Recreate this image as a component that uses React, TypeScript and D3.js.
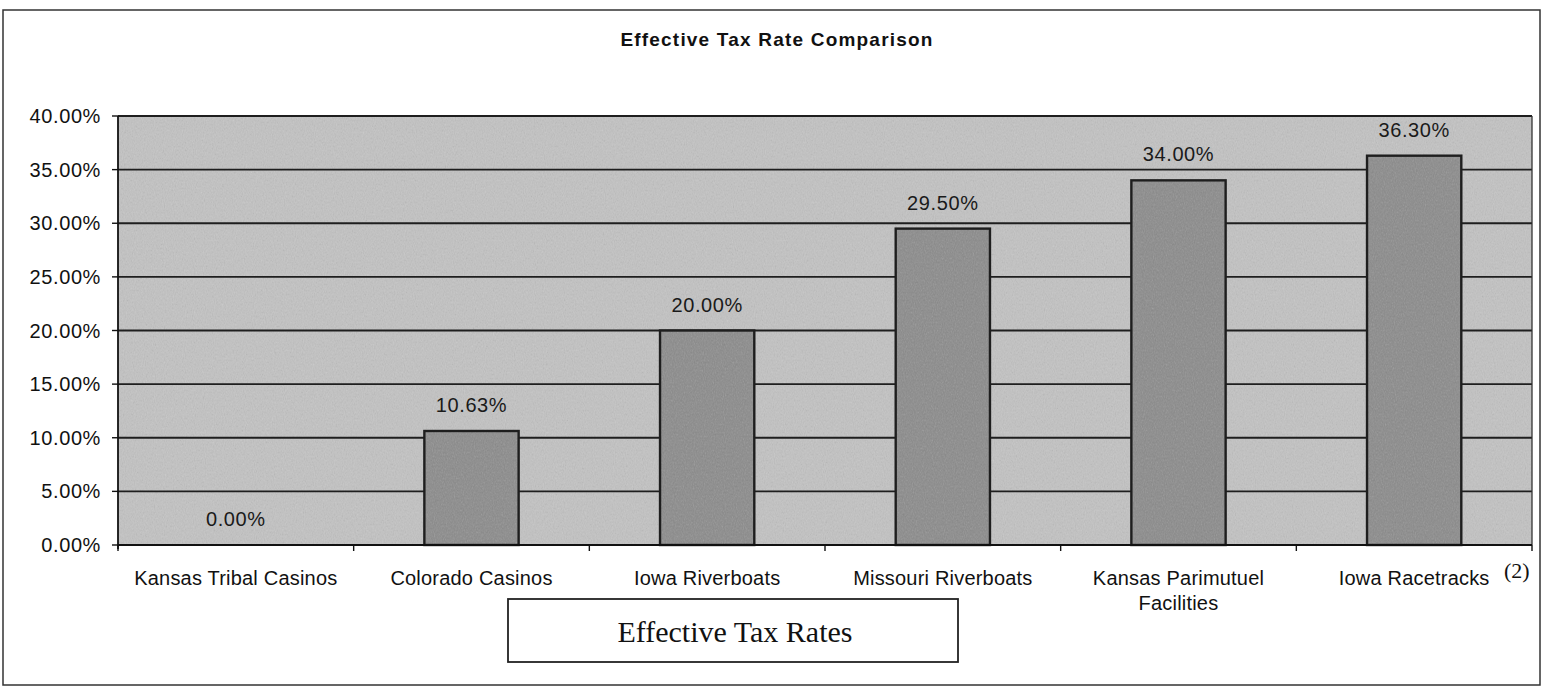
import React from "react";
import * as d3 from "d3";

const categories: string[][] = [
  ["Kansas Tribal Casinos"],
  ["Colorado Casinos"],
  ["Iowa Riverboats"],
  ["Missouri Riverboats"],
  ["Kansas Parimutuel", "Facilities"],
  ["Iowa Racetracks"],
];
const rates: number[] = [0.0, 10.63, 20.0, 29.5, 34.0, 36.3];
const yTicks: number[] = [0, 5, 10, 15, 20, 25, 30, 35, 40];
const title = "Effective Tax Rate Comparison";
const legendLabel = "Effective Tax Rates";
const footnote = "(2)";

export default function App() {
  const W = 1543;
  const H = 687;
  const left = 118;
  const right = 1532;
  const top = 116;
  const bottom = 545;

  const x = d3
    .scaleBand<number>()
    .domain(d3.range(categories.length))
    .range([left, right])
    .paddingInner(0.6)
    .paddingOuter(0.3);
  const xCat = d3
    .scaleBand<number>()
    .domain(d3.range(categories.length))
    .range([left, right]);
  const y = d3.scaleLinear().domain([0, 40]).range([bottom, top]);

  const sans = "Arial, 'Liberation Sans', Helvetica, sans-serif";
  const serif = "'Times New Roman', 'Liberation Serif', serif";
  const fmt = (v: number) => v.toFixed(2) + "%";

  return (
    <svg
      width={W}
      height={H}
      style={{ position: "absolute", left: 0, top: 0, background: "#fff" }}
    >
      <defs>
        <filter id="grain" x="0" y="0" width="100%" height="100%">
          <feTurbulence type="fractalNoise" baseFrequency="0.9 0.5" numOctaves={2} seed={4} />
          <feColorMatrix type="saturate" values="0" />
          <feComponentTransfer>
            <feFuncA type="table" tableValues="0 0.35" />
          </feComponentTransfer>
        </filter>
      </defs>
      <rect x={0} y={0} width={W} height={H} fill="#fff" />
      {/* outer frame */}
      <rect x={3} y={10} width={1537} height={675} fill="none" stroke="#333" strokeWidth={1.5} />
      <text
        x={777}
        y={46}
        textAnchor="middle"
        fontFamily={sans}
        fontWeight="bold"
        fontSize={19}
        letterSpacing={1.2}
        fill="#111"
      >
        {title}
      </text>

      {/* plot area */}
      <rect x={left} y={top} width={right - left} height={bottom - top} fill="#c2c2c2" />
      <rect
        x={left}
        y={top}
        width={right - left}
        height={bottom - top}
        filter="url(#grain)"
        opacity={0.8}
      />
      {yTicks.map((t) => (
        <line
          key={"g" + t}
          x1={left}
          x2={right}
          y1={y(t)}
          y2={y(t)}
          stroke="#1e1e1e"
          strokeWidth={1.8}
        />
      ))}
      <line x1={right} x2={right} y1={top} y2={bottom} stroke="#333" strokeWidth={1.3} />

      {/* bars */}
      {rates.map((v, i) => (
        <g key={"b" + i}>
          <rect
            x={x(i)!}
            y={y(v)}
            width={x.bandwidth()}
            height={bottom - y(v)}
            fill="#8a8a8a"
          />
          <rect
            x={x(i)!}
            y={y(v)}
            width={x.bandwidth()}
            height={bottom - y(v)}
            filter="url(#grain)"
            opacity={0.8}
          />
          <rect
            x={x(i)!}
            y={y(v)}
            width={x.bandwidth()}
            height={bottom - y(v)}
            fill="none"
            stroke="#1e1e1e"
            strokeWidth={2.4}
          />
        </g>
      ))}
      {rates.map((v, i) => (
        <text
          key={"v" + i}
          x={x(i)! + x.bandwidth() / 2}
          y={y(v) - 19}
          textAnchor="middle"
          fontFamily={sans}
          fontSize={20}
          letterSpacing={0.6}
          fill="#1a1a1a"
        >
          {fmt(v)}
        </text>
      ))}

      {/* y axis */}
      <line x1={left} x2={left} y1={top} y2={bottom + 4} stroke="#111" strokeWidth={1.8} />
      {yTicks.map((t) => (
        <g key={"t" + t}>
          <line x1={left - 6} x2={left} y1={y(t)} y2={y(t)} stroke="#111" strokeWidth={1.4} />
          <text
            x={left - 17}
            y={y(t) + 7}
            textAnchor="end"
            fontFamily={sans}
            fontSize={20}
            letterSpacing={0.6}
            fill="#111"
          >
            {fmt(t)}
          </text>
        </g>
      ))}

      {/* x axis */}
      <line x1={left} x2={right} y1={bottom} y2={bottom} stroke="#111" strokeWidth={2} />
      {d3.range(categories.length + 1).map((i) => {
        const xx = i < categories.length ? xCat(i)! : right;
        return (
          <line key={"xt" + i} x1={xx} x2={xx} y1={bottom} y2={bottom + 6} stroke="#111" strokeWidth={1.4} />
        );
      })}
      {categories.map((lines, i) => (
        <text
          key={"c" + i}
          x={xCat(i)! + xCat.bandwidth() / 2}
          y={585}
          textAnchor="middle"
          fontFamily={sans}
          fontSize={20}
          letterSpacing={0.2}
          fill="#111"
        >
          {lines.map((l, j) => (
            <tspan key={j} x={xCat(i)! + xCat.bandwidth() / 2} dy={j === 0 ? 0 : 25}>
              {l}
            </tspan>
          ))}
        </text>
      ))}
      <text x={1504} y={578} fontFamily={serif} fontSize={22} fill="#111">
        {footnote}
      </text>

      {/* legend box */}
      <rect x={508} y={599} width={450} height={63} fill="#fff" stroke="#222" strokeWidth={1.8} />
      <text
        x={735}
        y={642}
        textAnchor="middle"
        fontFamily={serif}
        fontSize={30}
        fill="#111"
      >
        {legendLabel}
      </text>
    </svg>
  );
}
